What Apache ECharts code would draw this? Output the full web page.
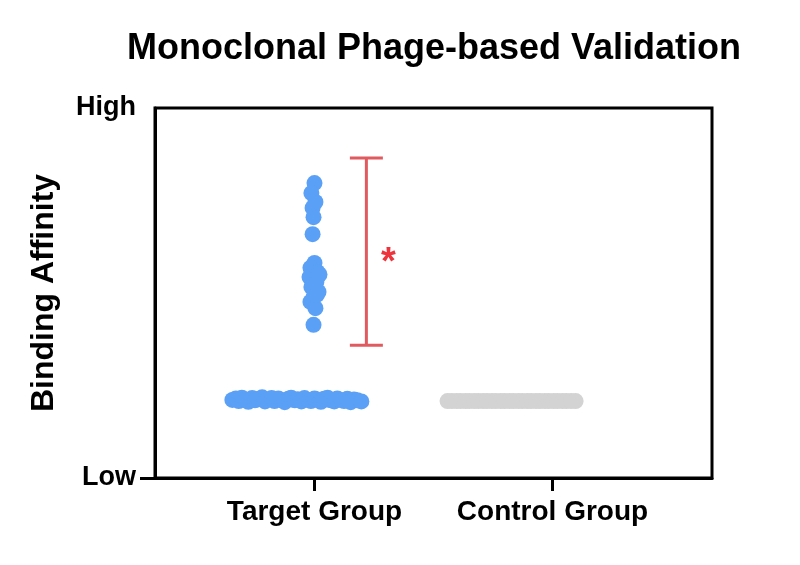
<!DOCTYPE html>
<html>
<head>
<meta charset="utf-8">
<script src="https://cdn.jsdelivr.net/npm/echarts@6/dist/echarts.min.js"></script>
<style>html,body{margin:0;padding:0;background:#fff}#c{width:800px;height:565px}</style>
</head>
<body>
<div id="c"></div>
<script>
const titleText = 'Monoclonal Phage-based Validation';
const yAxisName = 'Binding Affinity';
const categories = ['Target Group', 'Control Group'];
const yTickLabels = ['Low', 'High'];

// Target group: low-affinity baseline points (x = jitter around category 0)
const targetBaseX = [-0.345,-0.33,-0.318,-0.305,-0.29,-0.278,-0.262,-0.25,-0.235,-0.22,-0.208,-0.195,-0.18,-0.168,-0.152,-0.14,-0.125,-0.11,-0.098,-0.083,-0.07,-0.055,-0.042,-0.028,-0.015,0.0,0.012,0.027,0.04,0.055,0.068,0.083,0.096,0.11,0.124,0.138,0.152,0.166,0.18,0.197];
const targetBaseY = [0.211,0.215,0.208,0.217,0.212,0.206,0.216,0.21,0.214,0.218,0.207,0.212,0.216,0.208,0.215,0.211,0.205,0.214,0.217,0.21,0.213,0.207,0.216,0.211,0.208,0.215,0.212,0.206,0.214,0.217,0.21,0.207,0.215,0.211,0.208,0.214,0.205,0.212,0.21,0.207];

// Target group: high-affinity binders
const targetHighX = [0.0,-0.013,0.004,-0.008,-0.004,-0.008,0.0,-0.017,0.012,-0.021,0.008,-0.013,0.017,-0.004,-0.017,0.004,-0.004,0.021,-0.008,0.01];
const targetHighY = [0.797,0.77,0.746,0.73,0.705,0.659,0.581,0.568,0.557,0.543,0.53,0.516,0.503,0.489,0.476,0.459,0.414,0.55,0.52,0.495];

// Control group points (x = jitter around category 1)
const controlX = [0.559,0.577,0.597,0.614,0.634,0.651,0.671,0.688,0.708,0.725,0.745,0.762,0.782,0.799,0.819,0.836,0.856,0.873,0.893,0.91,0.93,0.947,0.967,0.984,1.004,1.021,1.041,1.058,1.078,1.097];
const controlY = [0.208,0.208,0.208,0.208,0.208,0.208,0.208,0.208,0.208,0.208,0.208,0.208,0.208,0.208,0.208,0.208,0.208,0.208,0.208,0.208,0.208,0.208,0.208,0.208,0.208,0.208,0.208,0.208,0.208,0.208];

// Significance bracket: [x, low, high]
const sigBar = [0.218, 0.359, 0.865];
const sigMark = [0.311, 0.58, '*'];

const zip = (xs, ys) => xs.map((x, i) => [x, ys[i]]);

const chart = echarts.init(document.getElementById('c'));
const FONT = 'Liberation Sans, Arial, sans-serif';
chart.setOption({
  animation: false,
  backgroundColor: '#fff',
  title: {
    text: titleText,
    left: 122, top: 26,
    textStyle: { fontFamily: FONT, fontWeight: 'bold', fontSize: 36, color: '#000' }
  },
  grid: {
    left: 155, right: 88, top: 108, bottom: 87,
    show: true, borderColor: '#000', borderWidth: 3, backgroundColor: 'transparent'
  },
  xAxis: {
    type: 'value', min: -0.67, max: 1.67,
    splitLine: { show: false },
    axisLine: { show: true, onZero: false, lineStyle: { color: '#000', width: 3 } },
    axisTick: { show: true, customValues: [0, 1], length: 13, lineStyle: { color: '#000', width: 3 } },
    axisLabel: {
      customValues: [0, 1], margin: 20,
      formatter: v => categories[Math.round(v)],
      fontFamily: FONT, fontWeight: 'bold', fontSize: 28, color: '#000'
    }
  },
  yAxis: {
    type: 'value', min: 0, max: 1,
    name: yAxisName, nameLocation: 'middle', nameGap: 95,
    nameTextStyle: { fontFamily: FONT, fontWeight: 'bold', fontSize: 32, color: '#000' },
    splitLine: { show: false },
    axisLine: { show: true, onZero: false, lineStyle: { color: '#000', width: 3 } },
    axisTick: { show: true, customValues: [0], length: 15, lineStyle: { color: '#000', width: 3 } },
    axisLabel: {
      customValues: [0, 1], margin: 19,
      formatter: v => yTickLabels[Math.round(v)],
      fontFamily: FONT, fontWeight: 'bold', fontSize: 27, color: '#000'
    }
  },
  series: [
    {
      type: 'scatter', data: zip(controlX, controlY), symbolSize: 16,
      itemStyle: { color: '#d3d3d3', opacity: 1 }
    },
    {
      type: 'scatter', data: zip(targetBaseX, targetBaseY), symbolSize: 16,
      itemStyle: { color: '#5aa0f6', opacity: 1 }
    },
    {
      type: 'scatter', data: zip(targetHighX, targetHighY), symbolSize: 16,
      itemStyle: { color: '#5aa0f6', opacity: 1 }
    },
    {
      type: 'custom', data: [sigBar],
      renderItem: (params, api) => {
        const x = api.value(0), lo = api.value(1), hi = api.value(2);
        const pHi = api.coord([x, hi]), pLo = api.coord([x, lo]);
        const hw = 16.5;
        const st = { stroke: '#e05a5f', lineWidth: 3 };
        return {
          type: 'group', children: [
            { type: 'line', shape: { x1: pHi[0], y1: pHi[1], x2: pLo[0], y2: pLo[1] }, style: st },
            { type: 'line', shape: { x1: pHi[0]-hw, y1: pHi[1], x2: pHi[0]+hw, y2: pHi[1] }, style: st },
            { type: 'line', shape: { x1: pLo[0]-hw, y1: pLo[1], x2: pLo[0]+hw, y2: pLo[1] }, style: st }
          ]
        };
      }
    },
    {
      type: 'scatter', data: [sigMark], symbolSize: 1,
      itemStyle: { color: 'rgba(0,0,0,0)' },
      label: {
        show: true, position: 'inside', formatter: p => p.value[2],
        fontFamily: FONT, fontWeight: 'bold', fontSize: 38, color: '#e8000b'
      }
    }
  ]
});
</script>
</body>
</html>
